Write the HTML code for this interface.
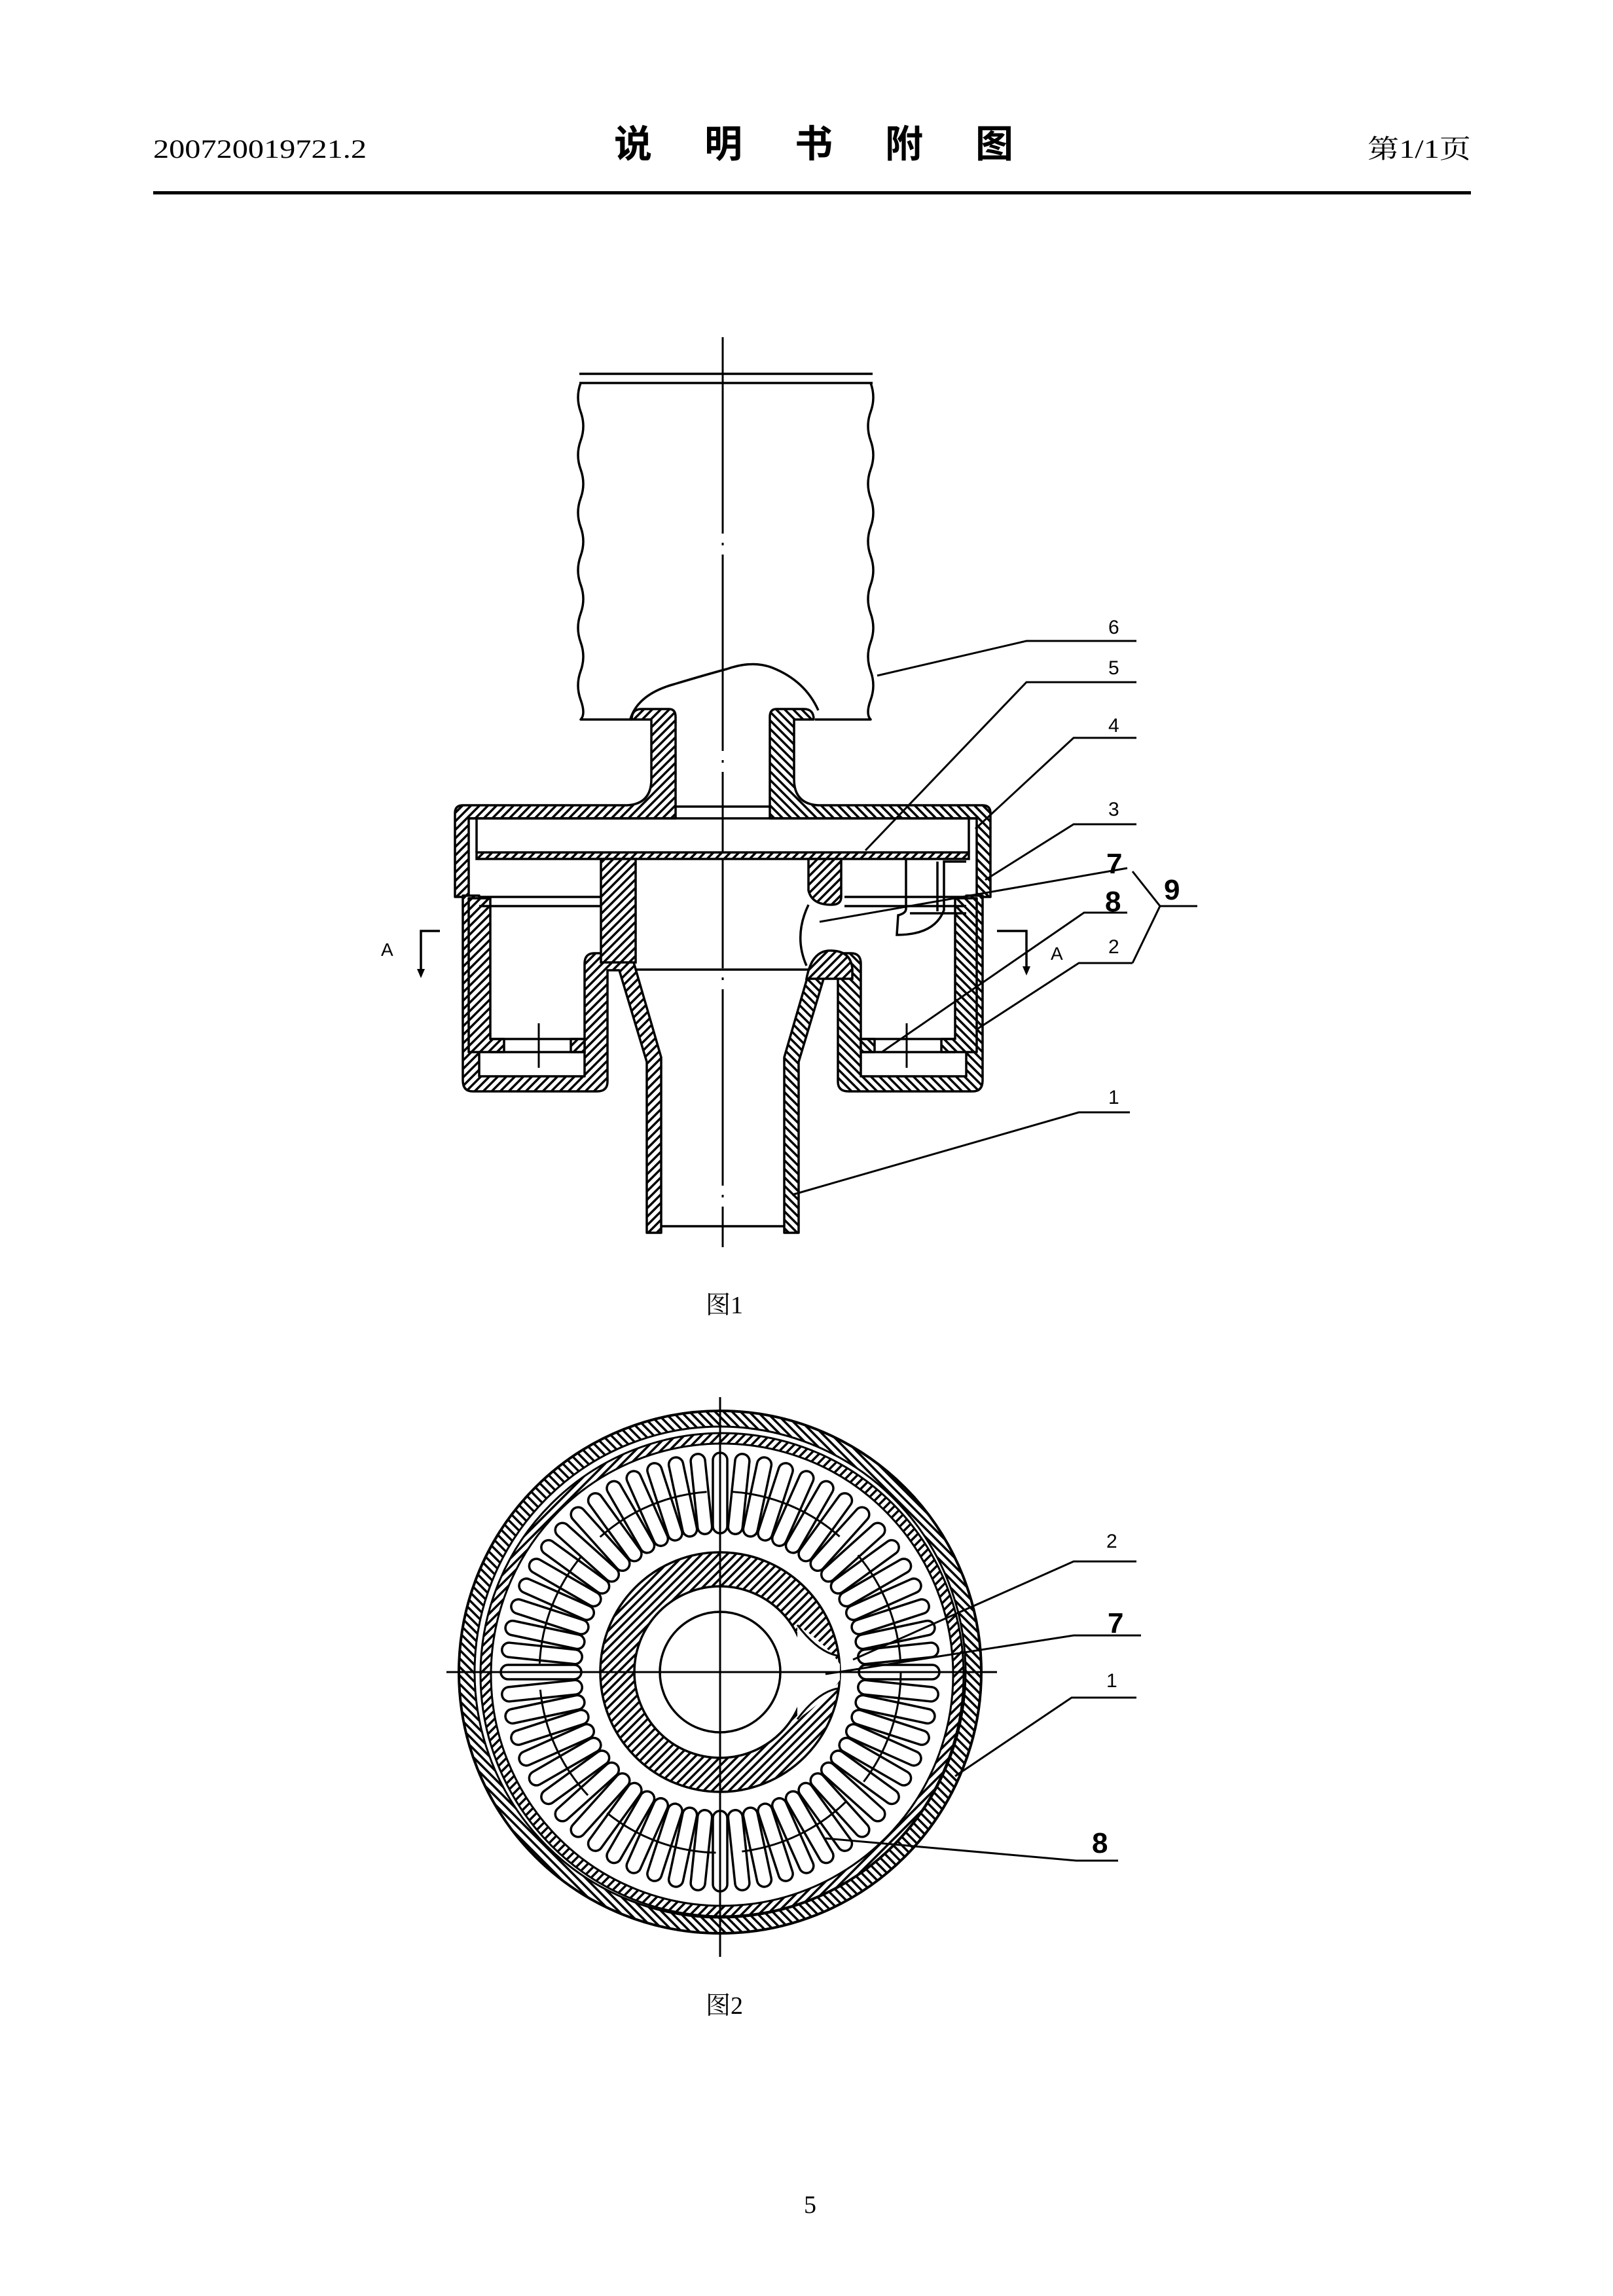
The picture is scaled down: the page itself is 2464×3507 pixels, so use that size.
<!DOCTYPE html>
<html><head><meta charset="utf-8">
<style>
html,body{margin:0;padding:0;background:#fff;}
body{width:2464px;height:3507px;overflow:hidden;}
svg{display:block;}
</style></head>
<body>
<svg width="2464" height="3507" viewBox="0 0 2464 3507" xmlns="http://www.w3.org/2000/svg">
<defs>
<pattern id="h" patternUnits="userSpaceOnUse" width="13" height="13">
<rect width="13" height="13" fill="#fff"/>
<path d="M-3,3 L3,-3 M0,13 L13,0 M10,16 L16,10" stroke="#000" stroke-width="3.5"/>
</pattern>
<pattern id="h2" patternUnits="userSpaceOnUse" width="13" height="13">
<rect width="13" height="13" fill="#fff"/>
<path d="M-3,10 L3,16 M0,0 L13,13 M10,-3 L16,3" stroke="#000" stroke-width="3.5"/>
</pattern>
<rect id="slot" x="212" y="-11" width="123" height="22" rx="11" fill="#fff" stroke="#000" stroke-width="3.5"/>
<g id="six">
<use href="#slot"/>
<use href="#slot" transform="rotate(6)"/>
<use href="#slot" transform="rotate(12)"/>
<use href="#slot" transform="rotate(18)"/>
<use href="#slot" transform="rotate(24)"/>
<use href="#slot" transform="rotate(30)"/>
</g>
</defs>

<!-- Header -->
<text x="234" y="241" font-family="Liberation Serif, serif" font-size="40" textLength="326" lengthAdjust="spacingAndGlyphs">200720019721.2</text>
<text x="938" y="240" font-family="Liberation Sans, Noto Sans CJK SC, sans-serif" font-size="58" font-weight="bold" letter-spacing="80">说明书附图</text>
<text x="2089" y="241" font-family="Liberation Serif, Noto Serif CJK SC, serif" font-size="40" textLength="158" lengthAdjust="spacingAndGlyphs">第1/1页</text>
<rect x="234" y="292" width="2013" height="5" fill="#000"/>

<!-- FIGURE 1 -->
<g fill="none" stroke="#000" stroke-width="3.5" stroke-linejoin="round">
<path d="M1104,515 V1905" stroke-width="3" stroke-dasharray="300,14,4,14"/>
<path d="M885,571 H1333 M885,585 H1333"/>
<path d="M887,585 q-8,22 0,44 q8,22 0,44 q-8,22 0,44 q8,22 0,44 q-8,22 0,44 q8,22 0,44 q-8,22 0,44 q8,22 0,44 q-8,22 0,44 q8,22 0,44 q-8,22 0,44 q8,22 0,30 V1099 H965"/>
<path d="M1330,585 q8,22 0,44 q-8,22 0,44 q8,22 0,44 q-8,22 0,44 q8,22 0,44 q-8,22 0,44 q8,22 0,44 q-8,22 0,44 q8,22 0,44 q-8,22 0,44 q8,22 0,44 q-8,22 0,30 V1099 H1245"/>
<path d="M963,1098 Q975,1060 1030,1045 Q1080,1030 1110,1022 Q1150,1008 1180,1020 Q1230,1040 1250,1085"/>
</g>

<g stroke="#000" stroke-width="3.5" stroke-linejoin="round" id="lh">
<path fill="url(#h)" d="M695,1370 L695,1242 Q695,1230 707,1230 L958,1230 Q995,1228 995,1190 L995,1099 L965,1099 Q965,1083 980,1083 L1022,1083 Q1032,1083 1032,1095 L1032,1250 L716,1250 L716,1370 Z"/>
<path fill="url(#h)" d="M707,1368 L707,1650 Q707,1667 722,1667 L912,1667 Q928,1667 928,1652 L928,1482 L946,1482 L988,1622 L988,1883 L1010,1883 L1010,1615 L968,1470 Q960,1456 948,1456 L908,1456 Q893,1456 893,1472 L893,1644 L732,1644 L732,1368 Z"/>
<path fill="url(#h)" d="M716,1372 L716,1607 L770,1607 L770,1587 L749,1587 L749,1372 Z"/>
<path fill="url(#h)" d="M872,1587 L893,1587 L893,1607 L872,1607 Z"/>
</g>
<use href="#lh" transform="translate(2208,0) scale(-1,1)"/>

<g fill="none" stroke="#000" stroke-width="3.5">
<path d="M1010,1873 H1198"/>
<path d="M716,1250 H1492"/>
<path d="M1032,1232 H1176"/>
<rect x="728" y="1302" width="752" height="10" fill="url(#h)"/>
<path d="M728,1250 V1302 M1480,1250 V1302"/>
<path d="M732,1370 H918 M732,1384 H918"/>
<path d="M1290,1370 H1476 M1290,1384 H1476"/>
<path d="M749,1607 H893 M749,1587 H893"/>
<path d="M1315,1607 H1459 M1315,1587 H1459"/>
<path d="M823,1563 V1631 M1385,1563 V1631" stroke-width="3"/>
<path fill="url(#h)" d="M918,1312 H971 V1470 H918 Z"/>
<path fill="url(#h)" d="M1235,1312 H1285 V1370 Q1285,1382 1270,1382 Q1240,1382 1235,1360 Z"/>
<path fill="url(#h)" d="M1232,1495 Q1240,1452 1268,1452 Q1300,1452 1302,1480 L1302,1495 Z"/>
<path d="M971,1481 H1235"/>
<path d="M1235,1382 Q1212,1430 1232,1475"/>
<path d="M1384,1312 V1388 Q1384,1395 1372,1398 L1370,1428 Q1428,1428 1442,1390 L1442,1316 H1476"/>
<path d="M1390,1395 H1476"/>
<path d="M1432,1316 V1392"/>
<path d="M643,1490 V1422 H672"/>
<path d="M1523,1422 H1568 V1486"/>
</g>
<path d="M637,1480 L643,1494 L649,1480 Z M1562,1476 L1568,1490 L1574,1476 Z" fill="#000"/>
<g font-family="Liberation Sans, sans-serif" font-size="28">
<text x="582" y="1460">A</text>
<text x="1605" y="1466">A</text>
</g>

<g fill="none" stroke="#000" stroke-width="3">
<path d="M1340,1032 L1568,979 H1736"/>
<path d="M1322,1299 L1568,1042 H1736"/>
<path d="M1490,1266 L1640,1127 H1736"/>
<path d="M1505,1344 L1640,1259 H1736"/>
<path d="M1252,1408 L1722,1326"/>
<path d="M1347,1607 L1656,1394 H1722"/>
<path d="M1491,1573 L1648,1471 H1730"/>
<path d="M1730,1331 L1772,1384 L1730,1471 M1772,1384 H1829"/>
<path d="M1210,1825 L1648,1699 H1726"/>
</g>
<g font-family="Liberation Sans, sans-serif" font-size="30">
<text x="1693" y="968">6</text>
<text x="1693" y="1030">5</text>
<text x="1693" y="1118">4</text>
<text x="1693" y="1246">3</text>
<text x="1693" y="1456">2</text>
<text x="1693" y="1686">1</text>
</g>
<g font-family="Liberation Sans, sans-serif" font-size="44" font-weight="bold">
<text x="1690" y="1334">7</text>
<text x="1688" y="1392">8</text>
<text x="1778" y="1374">9</text>
</g>
<text x="1078" y="2006" font-family="Liberation Serif, Noto Serif CJK SC, serif" font-size="38">图1</text>

<!-- FIGURE 2 -->
<g transform="translate(1100,2554)">
<circle r="387" fill="none" stroke="url(#h2)" stroke-width="24"/>
<circle r="399" fill="none" stroke="#000" stroke-width="4"/>
<circle r="375" fill="none" stroke="#000" stroke-width="3"/>
<circle cx="3" cy="4" r="361" fill="none" stroke="url(#h)" stroke-width="16"/>
<circle cx="3" cy="4" r="353" fill="none" stroke="#000" stroke-width="3"/>
<circle cx="3" cy="4" r="369" fill="none" stroke="#000" stroke-width="3"/>
<use href="#six"/>
<use href="#six" transform="rotate(36)"/>
<use href="#six" transform="rotate(72)"/>
<use href="#six" transform="rotate(108)"/>
<use href="#six" transform="rotate(144)"/>
<use href="#six" transform="rotate(180)"/>
<use href="#six" transform="rotate(216)"/>
<use href="#six" transform="rotate(252)"/>
<use href="#six" transform="rotate(288)"/>
<use href="#six" transform="rotate(324)"/>
<circle r="276" fill="none" stroke="#000" stroke-width="3" stroke-dasharray="180,40"/>
<circle r="157" fill="none" stroke="url(#h)" stroke-width="52"/>
<circle r="183" fill="none" stroke="#000" stroke-width="3.5"/>
<circle r="131" fill="none" stroke="#000" stroke-width="3.5"/>
<path d="M118,-72 Q165,-40 183,-12 L183,12 Q165,40 118,72 Z" fill="#fff"/>
<path d="M118,-72 Q150,-30 180,-25 M118,72 Q150,30 180,25" fill="none" stroke="#000" stroke-width="3"/>
<circle r="92" fill="none" stroke="#000" stroke-width="3.5"/>
<path d="M0,-420 V435 M-418,0 H423" stroke="#000" stroke-width="3"/>
</g>
<g fill="none" stroke="#000" stroke-width="3">
<path d="M1303,2535 L1640,2385 H1736"/>
<path d="M1261,2557 L1640,2498 H1743"/>
<path d="M1459,2713 L1637,2593 H1736"/>
<path d="M1261,2808 L1644,2842 H1708"/>
</g>
<g font-family="Liberation Sans, sans-serif" font-size="30">
<text x="1690" y="2364">2</text>
<text x="1690" y="2577">1</text>
</g>
<g font-family="Liberation Sans, sans-serif" font-size="44" font-weight="bold">
<text x="1692" y="2494">7</text>
<text x="1668" y="2830">8</text>
</g>
<text x="1078" y="3076" font-family="Liberation Serif, Noto Serif CJK SC, serif" font-size="38">图2</text>

<text x="1228" y="3380" font-family="Liberation Serif, serif" font-size="38">5</text>
</svg>
</body></html>
